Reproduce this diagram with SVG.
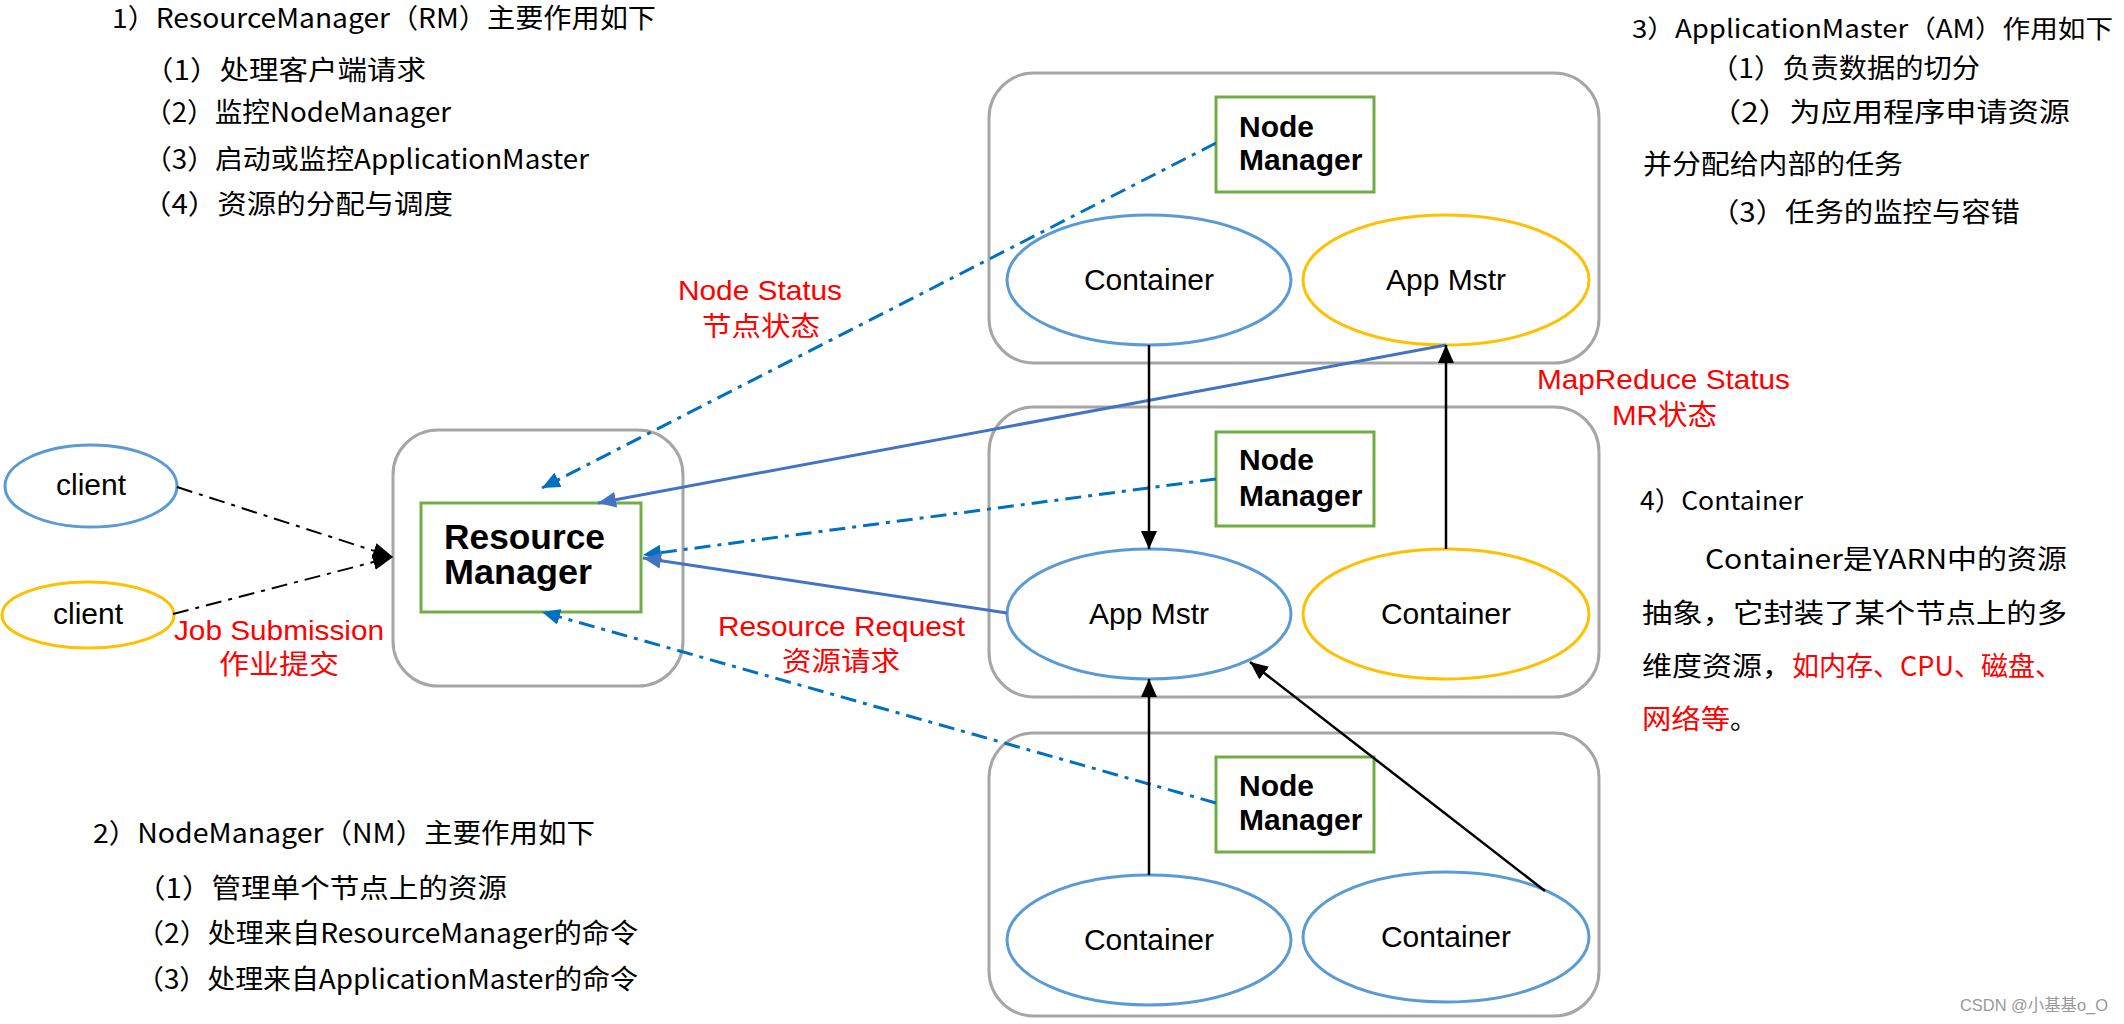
<svg xmlns="http://www.w3.org/2000/svg" width="2124" height="1024" viewBox="0 0 2124 1024">
<style>
.bg{fill:#fff}
.outer{fill:none;stroke:#a6a6a6;stroke-width:3}
.green{fill:#fff;stroke:#70ad47;stroke-width:3}
.eb{fill:none;stroke:#5b9bd5;stroke-width:3}
.eo{fill:none;stroke:#ffc000;stroke-width:3}
.desc{font-family:"Noto Sans CJK SC","Noto Sans",sans-serif;font-size:27px;fill:#000}
.red{font-family:"Liberation Sans","Noto Sans CJK SC",sans-serif;font-size:28px;fill:#ff0000}
.redc{font-family:"Noto Sans CJK SC",sans-serif;font-size:27px;fill:#ff0000}
.lbl{font-family:"Liberation Sans",Arial,sans-serif;font-size:30px;fill:#000;text-anchor:middle}
.bold{font-family:"Liberation Sans",Arial,sans-serif;font-weight:bold;fill:#000}
.blk{fill:none;stroke:#000;stroke-width:2.5}
.bsol{fill:none;stroke:#4472c4;stroke-width:3}
.bdash{fill:none;stroke:#0070c0;stroke-width:3;stroke-dasharray:16 7 4 7}
.kdash{fill:none;stroke:#000;stroke-width:2;stroke-dasharray:16 7 4 7}
</style>
<defs>
<marker id="ak" markerUnits="userSpaceOnUse" markerWidth="20" markerHeight="16" refX="18" refY="8" orient="auto"><path d="M0,0 L18,8 L0,16 z" fill="#000"/></marker>
<marker id="as" markerUnits="userSpaceOnUse" markerWidth="20" markerHeight="16" refX="18" refY="8" orient="auto"><path d="M0,0 L18,8 L0,16 z" fill="#4472c4"/></marker>
<marker id="ad" markerUnits="userSpaceOnUse" markerWidth="20" markerHeight="16" refX="18" refY="8" orient="auto"><path d="M0,0 L18,8 L0,16 z" fill="#0070c0"/></marker>
<marker id="ac" markerUnits="userSpaceOnUse" markerWidth="22" markerHeight="18" refX="20" refY="9" orient="auto"><path d="M0,1 L20,9 L0,17 z" fill="#000"/></marker>
</defs>
<rect class="bg" x="0" y="0" width="2124" height="1024"/>

<g id="text-rm">
<text class="desc" x="112" y="28" textLength="544" lengthAdjust="spacingAndGlyphs">1）ResourceManager（RM）主要作用如下</text>
<text class="desc" x="144" y="80" textLength="282" lengthAdjust="spacingAndGlyphs">（1）处理客户端请求</text>
<text class="desc" x="144" y="122" textLength="307" lengthAdjust="spacingAndGlyphs">（2）监控NodeManager</text>
<text class="desc" x="144" y="169" textLength="445" lengthAdjust="spacingAndGlyphs">（3）启动或监控ApplicationMaster</text>
<text class="desc" x="142" y="214" textLength="311" lengthAdjust="spacingAndGlyphs">（4）资源的分配与调度</text>
</g>

<g id="text-am">
<text class="desc" x="1632" y="38" style="font-size:25px" textLength="481" lengthAdjust="spacingAndGlyphs">3）ApplicationMaster（AM）作用如下</text>
<text class="desc" x="1710" y="78" textLength="270" lengthAdjust="spacingAndGlyphs">（1）负责数据的切分</text>
<text class="desc" x="1710" y="122" textLength="360" lengthAdjust="spacingAndGlyphs">（2）为应用程序申请资源</text>
<text class="desc" x="1643" y="174" textLength="260" lengthAdjust="spacingAndGlyphs">并分配给内部的任务</text>
<text class="desc" x="1710" y="222" textLength="310" lengthAdjust="spacingAndGlyphs">（3）任务的监控与容错</text>
</g>

<g id="text-container">
<text class="desc" x="1640" y="510" style="font-size:26px" textLength="163" lengthAdjust="spacingAndGlyphs">4）Container</text>
<text class="desc" x="1705" y="569" textLength="362" lengthAdjust="spacingAndGlyphs">Container是YARN中的资源</text>
<text class="desc" x="1642" y="623" textLength="425" lengthAdjust="spacingAndGlyphs">抽象，它封装了某个节点上的多</text>
<text class="desc" x="1642" y="676" textLength="150" lengthAdjust="spacingAndGlyphs">维度资源，</text>
<text class="redc" x="1792" y="676" textLength="270" lengthAdjust="spacingAndGlyphs">如内存、CPU、磁盘、</text>
<text class="redc" x="1642" y="729" textLength="88" lengthAdjust="spacingAndGlyphs">网络等</text>
<text class="desc" x="1730" y="729">。</text>
</g>

<g id="text-nm">
<text class="desc" x="93" y="843" textLength="502" lengthAdjust="spacingAndGlyphs">2）NodeManager（NM）主要作用如下</text>
<text class="desc" x="136" y="898" textLength="371" lengthAdjust="spacingAndGlyphs">（1）管理单个节点上的资源</text>
<text class="desc" x="136" y="943" textLength="502" lengthAdjust="spacingAndGlyphs">（2）处理来自ResourceManager的命令</text>
<text class="desc" x="136" y="989" textLength="502" lengthAdjust="spacingAndGlyphs">（3）处理来自ApplicationMaster的命令</text>
</g>

<g id="client1">
<ellipse class="eb" cx="91" cy="486" rx="86" ry="41"/>
<text class="lbl" x="91" y="495">client</text>
</g>
<g id="client2">
<ellipse class="eo" cx="88" cy="615" rx="86" ry="33"/>
<text class="lbl" x="88" y="624">client</text>
</g>

<g id="resource-manager">
<rect class="outer" x="393" y="430" width="290" height="256" rx="45"/>
<rect class="green" x="421" y="503" width="220" height="109"/>
<text class="bold" x="444" y="549" font-size="35" textLength="161" lengthAdjust="spacingAndGlyphs">Resource</text>
<text class="bold" x="444" y="584" font-size="35" textLength="148" lengthAdjust="spacingAndGlyphs">Manager</text>
</g>

<g id="node1">
<rect class="outer" x="989" y="73" width="610" height="290" rx="45"/>
<rect class="green" x="1216" y="97" width="158" height="95"/>
<text class="bold" x="1239" y="137" font-size="30">Node</text>
<text class="bold" x="1239" y="170" font-size="30">Manager</text>
<ellipse class="eb" cx="1149" cy="280" rx="142" ry="65"/>
<text class="lbl" x="1149" y="290">Container</text>
<ellipse class="eo" cx="1446" cy="280" rx="143" ry="65"/>
<text class="lbl" x="1446" y="290">App Mstr</text>
</g>

<g id="node2">
<rect class="outer" x="989" y="407" width="610" height="290" rx="45"/>
<rect class="green" x="1216" y="432" width="158" height="94"/>
<text class="bold" x="1239" y="470" font-size="30">Node</text>
<text class="bold" x="1239" y="506" font-size="30">Manager</text>
<ellipse class="eb" cx="1149" cy="614" rx="142" ry="65"/>
<text class="lbl" x="1149" y="624">App Mstr</text>
<ellipse class="eo" cx="1446" cy="614" rx="143" ry="65"/>
<text class="lbl" x="1446" y="624">Container</text>
</g>

<g id="node3">
<rect class="outer" x="989" y="733" width="610" height="283" rx="45"/>
<rect class="green" x="1216" y="757" width="158" height="95"/>
<text class="bold" x="1239" y="796" font-size="30">Node</text>
<text class="bold" x="1239" y="830" font-size="30">Manager</text>
<ellipse class="eb" cx="1149" cy="940" rx="142" ry="65"/>
<text class="lbl" x="1149" y="950">Container</text>
<ellipse class="eb" cx="1446" cy="937" rx="143" ry="65"/>
<text class="lbl" x="1446" y="947">Container</text>
</g>

<g id="connectors">
<line class="kdash" x1="177" y1="487" x2="393" y2="557" marker-end="url(#ac)"/>
<line class="kdash" x1="173" y1="614" x2="393" y2="557" marker-end="url(#ac)"/>
<line class="bdash" x1="1216" y1="143" x2="542" y2="488" marker-end="url(#ad)"/>
<line class="bdash" x1="1216" y1="479" x2="643" y2="555" marker-end="url(#ad)"/>
<line class="bdash" x1="1216" y1="803" x2="542" y2="612" marker-end="url(#ad)"/>
<line class="bsol" x1="1446" y1="345" x2="598" y2="503" marker-end="url(#as)"/>
<line class="bsol" x1="1007" y1="613" x2="643" y2="558" marker-end="url(#as)"/>
<line class="blk" x1="1149" y1="345" x2="1149" y2="549" marker-end="url(#ak)"/>
<line class="blk" x1="1446" y1="549" x2="1446" y2="345" marker-end="url(#ak)"/>
<line class="blk" x1="1149" y1="875" x2="1149" y2="679" marker-end="url(#ak)"/>
<line class="blk" x1="1545" y1="891" x2="1250" y2="662" marker-end="url(#ak)"/>
</g>

<g id="connector-labels">
<text class="red" x="174" y="640" textLength="210" lengthAdjust="spacingAndGlyphs">Job Submission</text>
<text class="redc" x="219" y="674" textLength="120" lengthAdjust="spacingAndGlyphs">作业提交</text>
<text class="red" x="678" y="300" textLength="164" lengthAdjust="spacingAndGlyphs">Node Status</text>
<text class="redc" x="702" y="336" textLength="118" lengthAdjust="spacingAndGlyphs">节点状态</text>
<text class="red" x="718" y="636" textLength="247" lengthAdjust="spacingAndGlyphs">Resource Request</text>
<text class="redc" x="782" y="671" textLength="118" lengthAdjust="spacingAndGlyphs">资源请求</text>
<text class="red" x="1537" y="389" textLength="253" lengthAdjust="spacingAndGlyphs">MapReduce Status</text>
<text class="red" x="1612" y="425" textLength="105" lengthAdjust="spacingAndGlyphs">MR状态</text>
</g>

<text x="1960" y="1011" font-family="Liberation Sans,Noto Sans CJK SC,sans-serif" font-size="17" fill="#999" textLength="148" lengthAdjust="spacingAndGlyphs">CSDN @小基基o_O</text>
</svg>
